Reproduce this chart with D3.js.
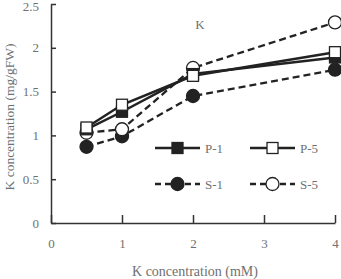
<!DOCTYPE html>
<meta charset="utf-8">
<style>
body { margin: 0; background: #fff; }
text { font-family: "Liberation Serif", "DejaVu Serif", serif; fill: #707070; }
.axis path, .axis line { stroke: #333; stroke-width: 1.5px; }
</style>
<body>
<script src="https://d3js.org/d3.v7.min.js"></script>
<script>
// K concentration data
var conc = [0.5, 1, 2, 4];
var p1 = [1.07, 1.27, 1.70, 1.89];
var p5 = [1.09, 1.35, 1.68, 1.95];
var s1 = [0.87, 0.99, 1.45, 1.75];
var s5 = [1.03, 1.07, 1.77, 2.29];
var xTicks = [0, 1, 2, 3, 4];
var yTicks = [0, 0.5, 1, 1.5, 2, 2.5];

var series = [
  {name: "P-1", values: p1, shape: "square", fill: "#222", dash: null},
  {name: "P-5", values: p5, shape: "square", fill: "#fff", dash: null},
  {name: "S-1", values: s1, shape: "circle", fill: "#222", dash: "7,4"},
  {name: "S-5", values: s5, shape: "circle", fill: "#fff", dash: "7,4"}
];

var svg = d3.select("body").append("svg")
    .attr("width", 341)
    .attr("height", 279);

var x = d3.scaleLinear().domain([0, 4]).range([51, 335]);
var y = d3.scaleLinear().domain([0, 2.5]).range([223, 4]);

var gx = svg.append("g")
    .attr("class", "axis")
    .attr("transform", "translate(0,223)")
    .call(d3.axisBottom(x).tickValues(xTicks).tickSizeInner(-8).tickSizeOuter(0).tickPadding(16).tickFormat(d3.format("d")));
gx.selectAll("text").style("font-size", "13px").attr("fill", "#707070");

var gy = svg.append("g")
    .attr("class", "axis")
    .attr("transform", "translate(51,0)")
    .call(d3.axisLeft(y).tickValues(yTicks).tickSizeInner(-5).tickSizeOuter(0).tickPadding(12).tickFormat(d3.format("")));
gy.selectAll("text").style("font-size", "13px").attr("fill", "#707070");
gy.selectAll(".tick").filter(function(d) { return d === 2.5; }).select("text").attr("dy", "0.5em");

svg.append("text")
    .attr("x", 195).attr("y", 276)
    .attr("text-anchor", "middle")
    .style("font-size", "14px")
    .text("K concentration (mM)");

svg.append("text")
    .attr("transform", "translate(14,117) rotate(-90)")
    .attr("text-anchor", "middle")
    .style("font-size", "13.5px")
    .text("K concentration (mg/gFW)");

svg.append("text")
    .attr("x", 200).attr("y", 29)
    .attr("text-anchor", "middle")
    .style("font-size", "13px")
    .text("K");

var line = d3.line()
    .x(function(d, i) { return x(conc[i]); })
    .y(function(d) { return y(d); });

function marker(g, s, cx, cy) {
  if (s.shape === "square") {
    g.append("rect")
      .attr("x", cx - 5.5).attr("y", cy - 5.5)
      .attr("width", 11).attr("height", 11)
      .attr("fill", s.fill).attr("stroke", "#222").attr("stroke-width", 1.3);
  } else {
    g.append("circle")
      .attr("cx", cx).attr("cy", cy).attr("r", 6.5)
      .attr("fill", s.fill).attr("stroke", "#222").attr("stroke-width", 1.3);
  }
}

// draw order: dashed first, then solid
[2, 3, 0, 1].forEach(function(k) {
  var s = series[k];
  svg.append("path")
    .datum(s.values)
    .attr("d", line)
    .attr("fill", "none")
    .attr("stroke", "#222")
    .attr("stroke-width", s.dash ? 2.3 : 2.5)
    .attr("stroke-dasharray", s.dash);
});
[2, 3, 0, 1].forEach(function(k) {
  var s = series[k];
  var g = svg.append("g");
  s.values.forEach(function(v, i) { marker(g, s, x(conc[i]), y(v)); });
});

// legend
var legPos = [[155, 148], [250, 148], [155, 184], [250, 184]];
series.forEach(function(s, k) {
  var lx = legPos[k][0], ly = legPos[k][1];
  var g = svg.append("g");
  g.append("line")
    .attr("x1", lx).attr("x2", lx + 45)
    .attr("y1", ly).attr("y2", ly)
    .attr("stroke", "#222")
    .attr("stroke-width", s.dash ? 2.3 : 2.5)
    .attr("stroke-dasharray", s.dash ? "6,4" : null);
  marker(g, s, lx + 22.5, ly);
  g.append("text")
    .attr("x", lx + 50).attr("y", ly + 5)
    .style("font-size", "13px")
    .text(s.name);
});
</script>
</body>
